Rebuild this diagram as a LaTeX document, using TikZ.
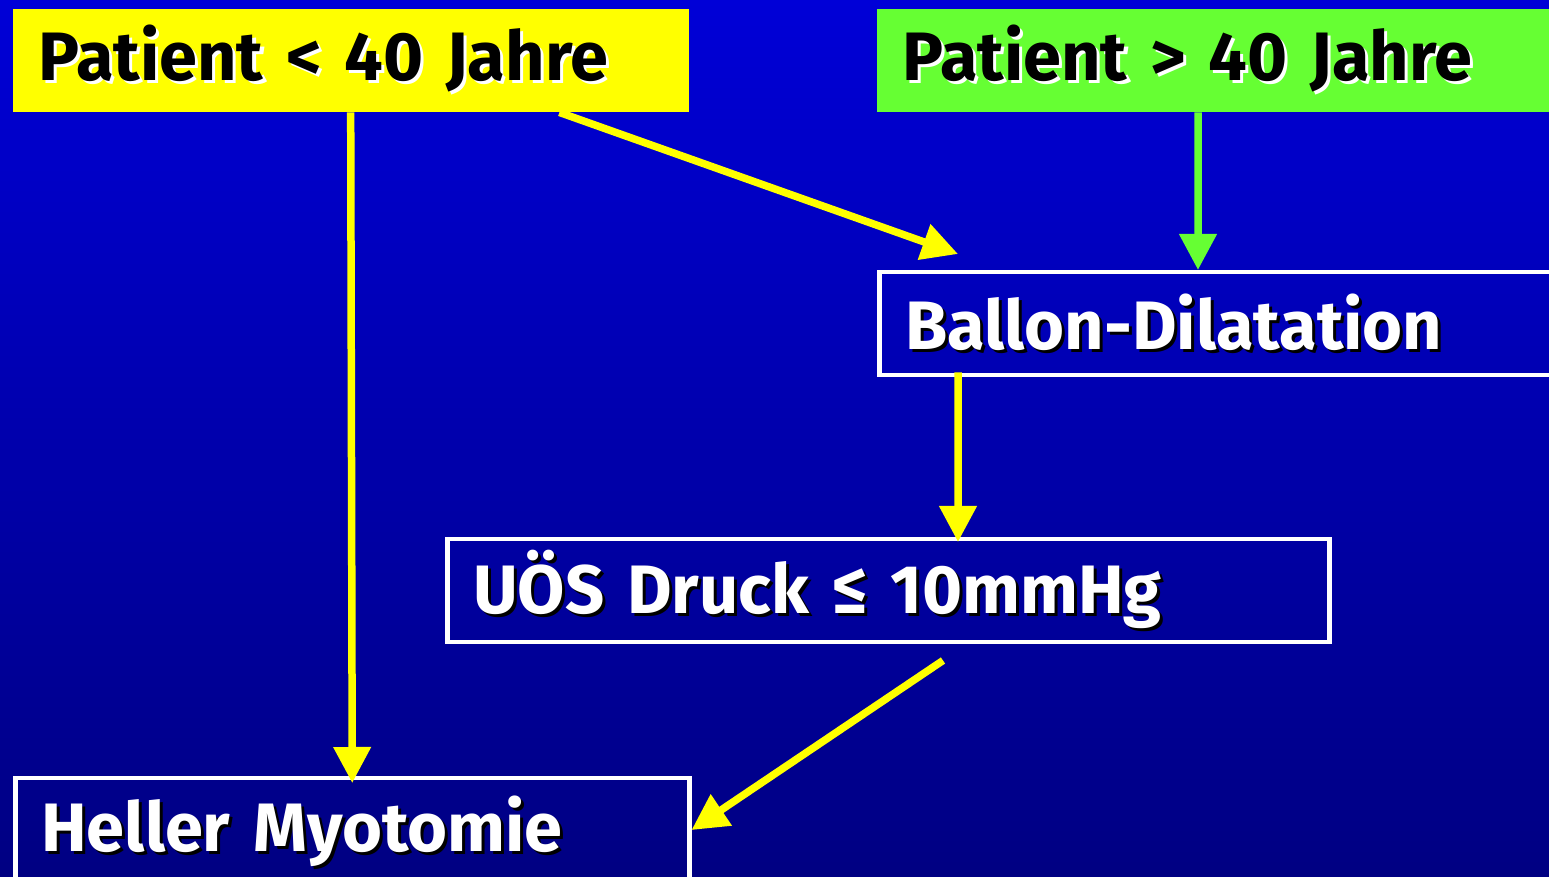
\documentclass[tikz,border=0pt]{standalone}
\usepackage{fontspec}
\setmainfont{Fira Sans}
\usepackage{tikz}
\usetikzlibrary{arrows.meta}
\definecolor{topblue}{RGB}{0,0,215}
\definecolor{botblue}{RGB}{0,0,130}
\definecolor{ygelb}{RGB}{255,255,0}
\definecolor{ggruen}{RGB}{102,255,51}
\newcommand{\shtext}[2]{\rlap{\hspace{0.03cm}\raisebox{-0.03cm}{\color{#1}#2}}#2}

\begin{document}
\begin{tikzpicture}
			\tikzset{box/.style={anchor=north west, minimum height=1.03cm, inner xsep=0.26cm, inner ysep=0pt, align=left, font=\fontsize{19.5}{24}\selectfont\bfseries},
				filled/.style={box, fill=#1, text=black},
				framed/.style={box, draw=white, line width=0.045cm, text=white},
				pfeil/.style={line width=0.075cm, draw=#1, -{Triangle[length=0.36cm, width=0.36cm, fill=#1]}}}
			
			\useasboundingbox (0,0) rectangle (15.49,8.77);
			\clip (0,0) rectangle (15.49,8.77);
			\shade[top color=topblue, bottom color=botblue] (0,0) rectangle (15.49,8.77);
			
			\node[filled=ygelb, text width=6.24cm] (p_jung) at (0.12,8.69) {\shtext{white}{Patient < 40 Jahre}};
			\node[filled=ggruen, text width=6.38cm] (p_alt) at (8.76,8.69) {\shtext{white}{Patient > 40 Jahre}};
			\node[framed, text width=6.38cm] (ballon) at (8.77,6.07) {\shtext{black}{Ballon-Dilatation}};
			\node[framed, text width=8.30cm] (uoes) at (4.45,3.40) {\shtext{black}{UÖS Druck ≤ 10mmHg}};
			\node[framed, text width=6.22cm, minimum height=1.10cm] (heller) at (0.13,1.01) {\shtext{black}{Heller Myotomie}};
			
			\draw[pfeil=ygelb] (p_jung.south) -- ([yshift=-0.07cm]heller.north);
			\draw[pfeil=ygelb] ([xshift=-1.30cm]p_jung.south east) -- ([xshift=0.81cm,yshift=0.16cm]ballon.north west);
			\draw[pfeil=ggruen] ([xshift=3.22cm]p_alt.south west) -- ([xshift=3.21cm]ballon.north west);
			\draw[pfeil=ygelb] ([xshift=0.81cm,yshift=0.05cm]ballon.south west) -- ([xshift=5.13cm,yshift=-0.05cm]uoes.north west);
			\draw[pfeil=ygelb] ([xshift=4.98cm,yshift=-0.16cm]uoes.south west) -- ([yshift=-0.54cm]heller.north east);
			
		\end{tikzpicture}
\end{document}
